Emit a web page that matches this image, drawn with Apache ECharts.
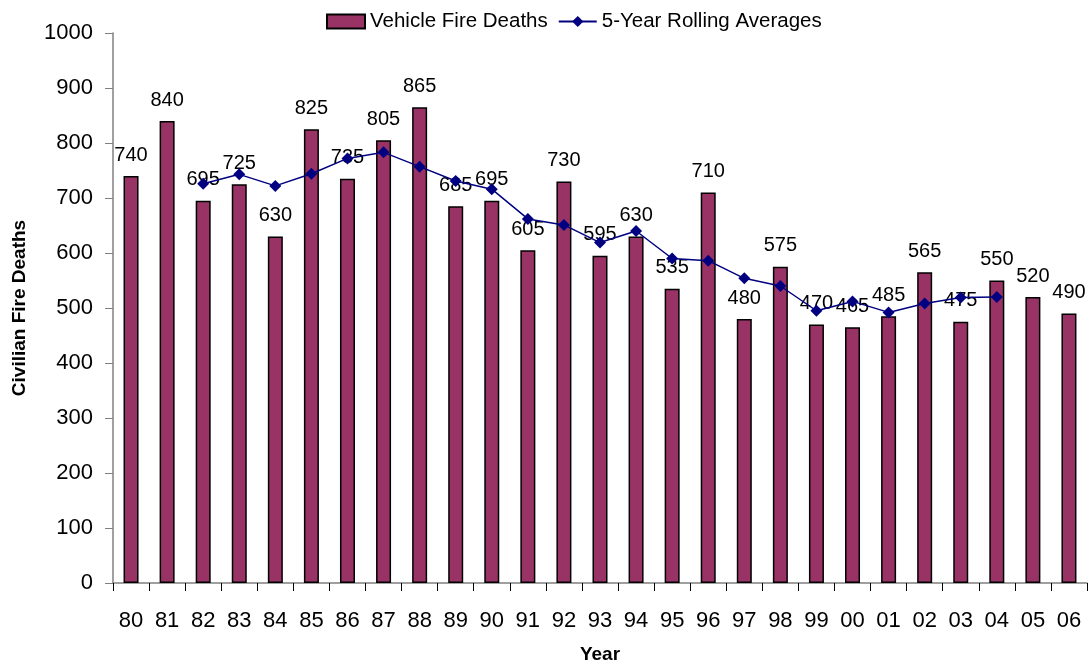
<!DOCTYPE html>
<html><head><meta charset="utf-8">
<script src="https://cdn.jsdelivr.net/npm/echarts@6/dist/echarts.min.js"></script>
<style>html,body{margin:0;padding:0;background:#fff}#c{width:1089px;height:662px}</style>
</head><body><div id="c"></div>
<script>
const years = ['80','81','82','83','84','85','86','87','88','89','90','91','92','93','94','95','96','97','98','99','00','01','02','03','04','05','06'];
const deaths = [740,840,695,725,630,825,735,805,865,685,695,605,730,595,630,535,710,480,575,470,465,485,565,475,550,520,490];
const rolling = [null,null,726,743,722,744,772,783,757,731,716,662,651,619,640,590,586,554,540,495,512,492,508,519,520,null,null];
const yTicks = [0,100,200,300,400,500,600,700,800,900,1000];

const chart = echarts.init(document.getElementById('c'), null, {renderer:'canvas'});
const font = 'Liberation Sans, Arial, sans-serif';
chart.setOption({
  animation:false,
  textStyle:{fontFamily:font},
  legend:{top:6,left:321,itemGap:10,itemWidth:38,itemHeight:14,
    textStyle:{fontSize:20.5,color:'#000',fontFamily:font},
    data:[{name:'Vehicle Fire Deaths',icon:'rect'},{name:'5-Year Rolling Averages'}]},
  grid:{left:113,right:2,top:33,bottom:79,containLabel:false,outerBoundsMode:'none'},
  xAxis:{type:'category',data:years,boundaryGap:true,
    name:'Year',nameLocation:'middle',nameGap:62,
    nameTextStyle:{fontSize:19,fontWeight:'bold',color:'#000',fontFamily:font},
    axisLine:{lineStyle:{color:'#808080',width:1.5}},
    axisTick:{show:true,inside:false,length:8,lineStyle:{color:'#000'}},
    axisLabel:{fontSize:22,color:'#000',margin:27,fontFamily:font,interval:0}},
  yAxis:{type:'value',min:yTicks[0],max:yTicks[yTicks.length-1],interval:100,
    name:'Civilian Fire Deaths',nameLocation:'middle',nameGap:84,nameRotate:90,
    nameTextStyle:{fontSize:19,fontWeight:'bold',color:'#000',fontFamily:font},
    axisLine:{show:true,lineStyle:{color:'#808080',width:1.5}},
    axisTick:{show:true,inside:false,length:8,lineStyle:{color:'#808080'}},
    splitLine:{show:false},
    axisLabel:{fontSize:22,color:'#000',margin:20,fontFamily:font,formatter:v=>String(v)}},
  series:[
    {name:'Vehicle Fire Deaths',type:'bar',data:deaths,barWidth:15,
      itemStyle:{color:'#993366',borderColor:'#000',borderWidth:1.5},
      label:{show:true,position:'top',distance:11,fontSize:20,color:'#000',fontFamily:font},
      z:2},
    {name:'5-Year Rolling Averages',type:'line',data:rolling,
      symbol:'diamond',symbolSize:12,showAllSymbol:true,
      lineStyle:{color:'#000080',width:1.5},
      itemStyle:{color:'#000080'},z:3}
  ]
});
</script></body></html>
